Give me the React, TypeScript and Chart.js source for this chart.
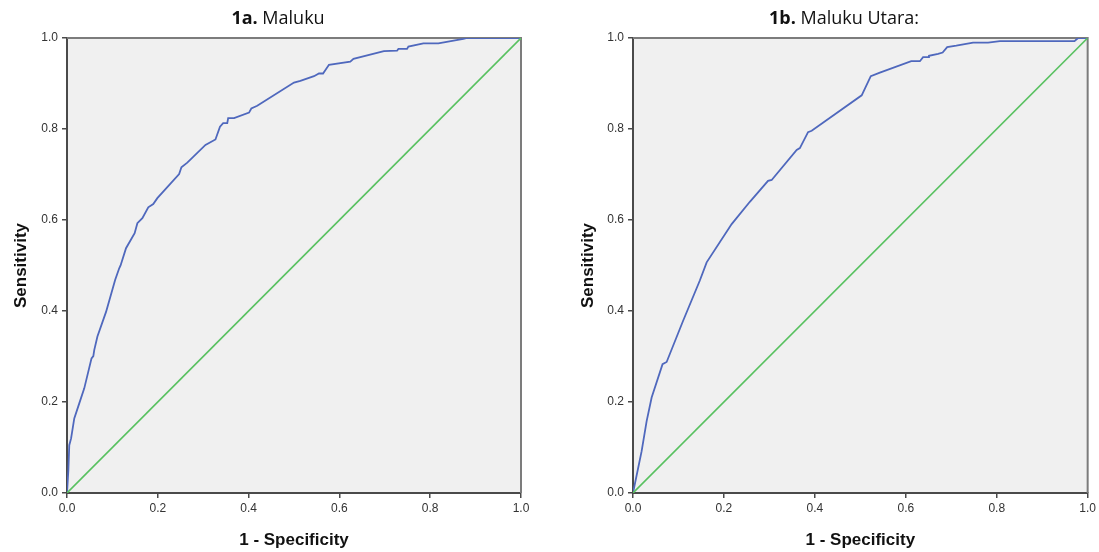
import React, { useEffect, useRef } from "react";
import { Chart, registerables } from "chart.js";

Chart.register(...registerables);

// ---- data ----
const TICK_LABELS = ["0.0", "0.2", "0.4", "0.6", "0.8", "1.0"];
const DIAGONAL_X = [0, 1];
const DIAGONAL_Y = [0, 1];

const MALUKU_FPR = [
  0, 0.003, 0.005, 0.009, 0.016, 0.027, 0.038, 0.054, 0.058, 0.06, 0.067, 0.086, 0.106, 0.115, 0.118,
  0.13, 0.149, 0.155, 0.166, 0.179, 0.19, 0.199, 0.247, 0.252, 0.265, 0.305, 0.327, 0.337, 0.344,
  0.353, 0.355, 0.368, 0.401, 0.406, 0.419, 0.5, 0.514, 0.544, 0.555, 0.564, 0.577, 0.624, 0.631,
  0.698, 0.727, 0.73, 0.749, 0.752, 0.785, 0.818, 0.873, 0.881, 1.0,
];
const MALUKU_TPR = [
  0, 0.05, 0.105, 0.12, 0.164, 0.197, 0.23, 0.296, 0.301, 0.314, 0.344, 0.398, 0.468, 0.494, 0.5,
  0.538, 0.571, 0.593, 0.604, 0.628, 0.635, 0.648, 0.701, 0.716, 0.726, 0.765, 0.777, 0.805, 0.813,
  0.813, 0.824, 0.824, 0.836, 0.845, 0.851, 0.902, 0.906, 0.916, 0.922, 0.922, 0.941, 0.948, 0.954,
  0.971, 0.972, 0.976, 0.976, 0.981, 0.988, 0.988, 0.998, 1.0, 1.0,
];

const UTARA_FPR = [
  0, 0.019, 0.03, 0.041, 0.065, 0.074, 0.11, 0.147, 0.162, 0.217, 0.257, 0.297, 0.305, 0.36, 0.367,
  0.385, 0.393, 0.503, 0.523, 0.543, 0.612, 0.631, 0.638, 0.649, 0.651, 0.671, 0.681, 0.691, 0.711,
  0.748, 0.781, 0.807, 0.971, 0.979, 1.0,
];
const UTARA_TPR = [
  0, 0.092, 0.158, 0.21, 0.283, 0.288, 0.378, 0.467, 0.507, 0.591, 0.64, 0.686, 0.688, 0.754, 0.758,
  0.793, 0.796, 0.874, 0.916, 0.924, 0.949, 0.949, 0.958, 0.958, 0.961, 0.965, 0.968, 0.98, 0.983,
  0.99, 0.99, 0.993, 0.993, 1.0, 1.0,
];

const BLUE = "#4f68bd";
const GREEN = "#58c160";
const AXIS_DARK = "#4a4a4a";
const AXIS_LIGHT = "#7c7c7c";
const PLOT_BG = "#f0f0f0";

type PanelSpec = {
  boldTitle: string;
  restTitle: string;
  titleX: number;
  width: number;
  yAxisWidth: number;
  rightPad: number;
  yTitlePad: number;
  fpr: number[];
  tpr: number[];
};

const PANELS: PanelSpec[] = [
  {
    boldTitle: "1a.",
    restTitle: " Maluku",
    titleX: 278,
    width: 560,
    yAxisWidth: 67,
    rightPad: 39,
    yTitlePad: 11,
    fpr: MALUKU_FPR,
    tpr: MALUKU_TPR,
  },
  {
    boldTitle: "1b.",
    restTitle: " Maluku Utara:",
    titleX: 284,
    width: 539,
    yAxisWidth: 73,
    rightPad: 11,
    yTitlePad: 18,
    fpr: UTARA_FPR,
    tpr: UTARA_TPR,
  },
];

const zip = (xs: number[], ys: number[]) => xs.map((x, i) => ({ x, y: ys[i] }));

function Panel({ spec, left }: { spec: PanelSpec; left: number }) {
  const ref = useRef<HTMLCanvasElement | null>(null);
  useEffect(() => {
    if (!ref.current) return;
    const bgPlugin = {
      id: "bgPlot",
      beforeDatasetsDraw(chart: any) {
        const { ctx, chartArea: a } = chart;
        ctx.save();
        ctx.fillStyle = PLOT_BG;
        ctx.fillRect(a.left + 1, a.top, a.right - a.left - 1, a.bottom - a.top - 1);
        ctx.strokeStyle = AXIS_LIGHT;
        ctx.lineWidth = 2;
        ctx.beginPath();
        ctx.moveTo(a.left, a.top);
        ctx.lineTo(a.right, a.top);
        ctx.lineTo(a.right, a.bottom);
        ctx.stroke();
        ctx.restore();
      },
    };
    const titlePlugin = {
      id: "mixedTitle",
      afterDraw(chart: any) {
        const { ctx } = chart;
        ctx.save();
        ctx.fillStyle = "#111";
        ctx.textBaseline = "alphabetic";
        const fb = "bold 18px 'Open Sans', 'Noto Sans', sans-serif";
        const fr = "18px 'Open Sans', 'Noto Sans', sans-serif";
        ctx.font = fb;
        const wb = ctx.measureText(spec.boldTitle).width;
        ctx.font = fr;
        const wr = ctx.measureText(spec.restTitle).width;
        const x0 = spec.titleX - (wb + wr) / 2;
        ctx.font = fb;
        ctx.fillText(spec.boldTitle, x0, 24);
        ctx.font = fr;
        ctx.fillText(spec.restTitle, x0 + wb, 24);
        ctx.restore();
      },
    };
    const tickFont = { family: "'Liberation Sans', Arial, sans-serif", size: 12 };
    const titleFont = { family: "'Liberation Sans', Arial, sans-serif", size: 17, weight: "bold" as const, lineHeight: 1.2 };
    const chart = new Chart(ref.current, {
      type: "scatter",
      data: {
        datasets: [
          {
            data: zip(DIAGONAL_X, DIAGONAL_Y),
            borderColor: GREEN,
            borderWidth: 1.6,
            showLine: true,
            pointRadius: 0,
          },
          {
            data: zip(spec.fpr, spec.tpr),
            borderColor: BLUE,
            borderWidth: 1.8,
            showLine: true,
            pointRadius: 0,
          },
        ],
      },
      options: {
        animation: false,
        responsive: false,
        maintainAspectRatio: false,
        layout: { padding: { left: 0, top: 38, right: spec.rightPad, bottom: 0 } },
        plugins: { legend: { display: false }, tooltip: { enabled: false }, title: { display: false } },
        scales: {
          x: {
            type: "linear",
            min: 0,
            max: 1,
            ticks: {
              stepSize: 0.2,
              font: tickFont,
              color: "#333",
              padding: 3,
              maxRotation: 0,
              callback: (_v: any, i: number) => TICK_LABELS[i],
            },
            grid: { drawOnChartArea: false, drawTicks: true, tickLength: 5, color: AXIS_DARK, lineWidth: 1.5 },
            border: { display: true, color: AXIS_DARK, width: 2 },
            title: { display: true, text: "1 - Specificity", font: titleFont, color: "#111", padding: { top: 0, bottom: 1 } },
            afterFit: (s: any) => {
              s.height = 59;
            },
          },
          y: {
            type: "linear",
            min: 0,
            max: 1,
            ticks: {
              stepSize: 0.2,
              font: tickFont,
              color: "#333",
              padding: 4,
              callback: (_v: any, i: number) => TICK_LABELS[i],
            },
            grid: { drawOnChartArea: false, drawTicks: true, tickLength: 5, color: AXIS_DARK, lineWidth: 1.5 },
            border: { display: true, color: AXIS_DARK, width: 2 },
            title: { display: true, text: "Sensitivity", font: titleFont, color: "#111", padding: { top: spec.yTitlePad, bottom: 0 } },
            afterFit: (s: any) => {
              s.width = spec.yAxisWidth;
            },
          },
        },
      },
      plugins: [bgPlugin, titlePlugin],
    } as any);
    return () => chart.destroy();
  }, [spec]);
  return (
    <canvas
      ref={ref}
      width={spec.width}
      height={552}
      style={{ position: "absolute", left, top: 0, width: spec.width, height: 552 }}
    />
  );
}

export default function App() {
  return (
    <div style={{ position: "fixed", left: 0, top: 0, width: 1099, height: 552, background: "#fff" }}>
      <Panel spec={PANELS[0]} left={0} />
      <Panel spec={PANELS[1]} left={560} />
    </div>
  );
}
